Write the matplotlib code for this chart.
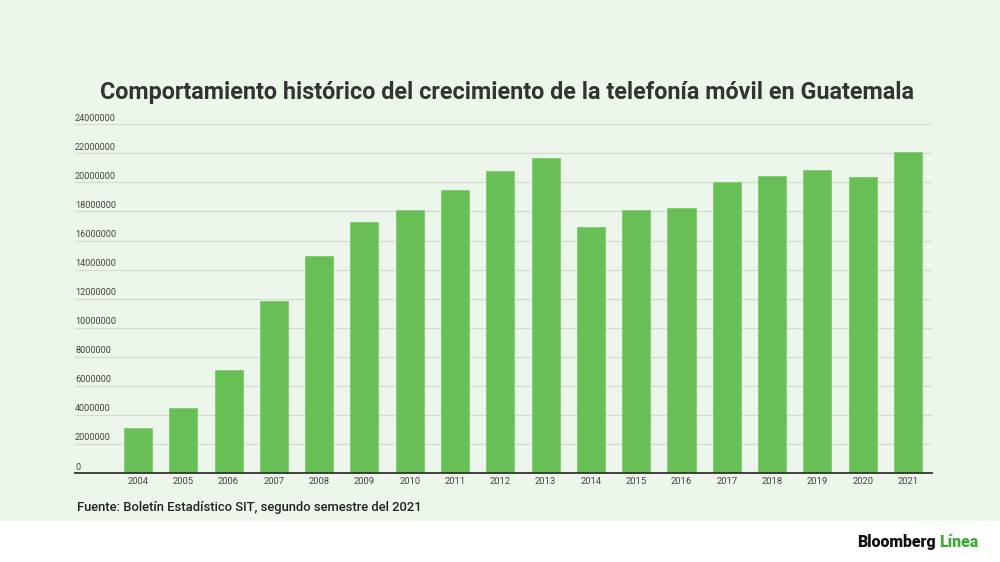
import matplotlib
matplotlib.use("Agg")
import matplotlib.pyplot as plt
import matplotlib.patches as mpatches

plt.rcParams.update({"font.family": ["Roboto", "DejaVu Sans"]})

YEARS = [str(y) for y in range(2004, 2022)]
LINES = [3.12e6, 4.46e6, 7.1e6, 11.86e6, 14.97e6, 17.26e6, 18.07e6, 19.45e6,
         20.78e6, 21.7e6, 16.92e6, 18.1e6, 18.25e6, 20.0e6, 20.46e6, 20.88e6,
         20.37e6, 22.12e6]
YTICKS = list(range(0, 24000001, 2000000))

BG = "#edf6ea"
GREEN = "#68bf55"

fig = plt.figure(figsize=(10, 5.62), dpi=100)
fig.patch.set_facecolor(BG)
# white strip at the bottom for the logo
fig.patches.append(mpatches.Rectangle((0, 0), 1, 1 - 521 / 562,
                                      transform=fig.transFigure, color="white", zorder=0))

ax = fig.add_axes([0.075, 0.158, 0.857, 0.621])
ax.set_facecolor("none")
x = range(len(YEARS))
ax.bar(x, LINES, width=0.62, color=GREEN, edgecolor="#7ccb6a", lw=0.6, zorder=3)
ax.set_xlim(-1.39, 17.53)
ax.set_ylim(0, 24000000)

ax.set_yticks(YTICKS)
ax.set_yticklabels([])
ax.tick_params(axis="y", length=0)
ax.grid(axis="y", color="#d3dccf", lw=0.9, zorder=0)
for v in YTICKS:
    ax.annotate(str(v), (0, v), xycoords=("axes fraction", "data"),
                xytext=(0, 1.2), textcoords="offset points",
                ha="left", va="bottom", fontsize=6.6, color="#444444")

ax.set_xticks(list(x))
ax.set_xticklabels(YEARS, fontsize=6.8, color="#444444")
ax.tick_params(axis="x", length=0, pad=3)
for s in ("top", "right", "left"):
    ax.spines[s].set_visible(False)
ax.spines["bottom"].set_color("#333333")
ax.spines["bottom"].set_linewidth(1.3)
ax.spines["bottom"].set_zorder(4)

fig.text(0.5075, 0.836, "Comportamiento histórico del crecimiento de la telefonía móvil en Guatemala",
         ha="center", va="center", fontsize=16.8, fontweight="bold", color="#333333")
fig.text(0.077, 1 - 508 / 562, "Fuente: Boletín Estadístico SIT, segundo semestre del 2021",
         ha="left", va="center", fontsize=9.4, fontweight="medium", color="#222222")

t = fig.text(0.857, 1 - 542 / 562, "Bloomberg", ha="left", va="center",
             fontsize=11.4, fontweight="black", color="#111111")
fig.canvas.draw()
bb = t.get_window_extent()
fig.text((bb.x1 + 4) / fig.bbox.width, 1 - 542 / 562, "Línea", ha="left", va="center",
         fontsize=11.4, fontweight="black", color="#3aaa35")

fig.savefig("out.png", dpi=100, facecolor=fig.get_facecolor())
